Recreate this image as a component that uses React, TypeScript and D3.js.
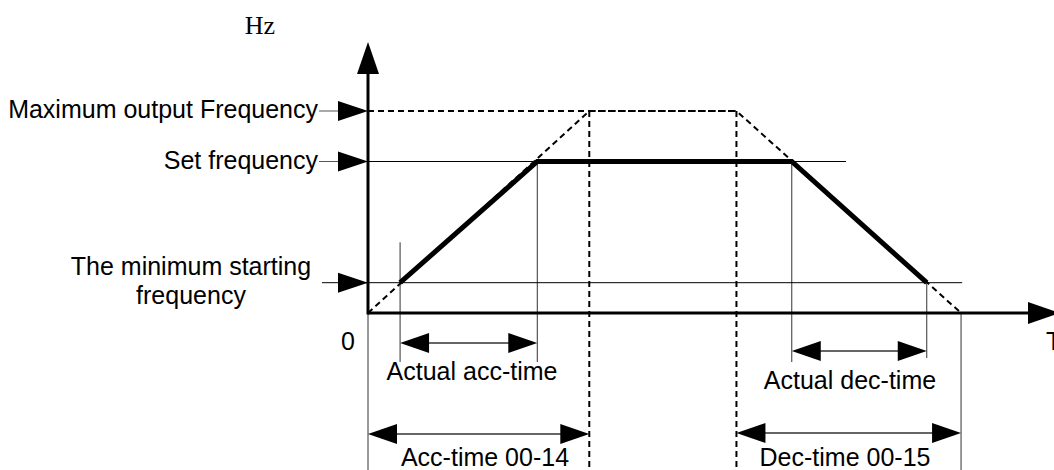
import * as d3 from "d3";

// frequency levels marked on the Hz axis (0..100 = % of max output)
const levelLabels = ["Maximum output Frequency", "Set frequency", "The minimum starting frequency"];
const levelValues = [100, 75, 15];
// where the thin guide line of each level stops (time units)
const levelLineEnds = [16.65, 21.6, 26.85];

// nominal ramp (dashed): 0 -> max over acc-time, max -> 0 over dec-time
const nominalT = [0, 10, 16.65, 26.8];
const nominalF = [0, 100, 100, 0];

// actual output (bold): starts at min start freq, holds set freq, stops at min freq
const actualT = [1.45, 7.65, 19.15, 25.25];
const actualF = [15, 75, 75, 15];

// dimension arrows below the T axis
const spanLabels = ["Actual acc-time", "Acc-time 00-14", "Actual dec-time", "Dec-time 00-15"];
const spanStart = [1.45, 0, 19.15, 16.65];
const spanEnd = [7.65, 10, 25.25, 26.8];

const W = 1054;
const H = 470;
const FONT = "Liberation Sans, Arial, sans-serif";
const FS = 25;

const x = d3.scaleLinear().domain([0, 31]).range([368, 1054]);
const y = d3.scaleLinear().domain([0, 100]).range([313, 111]);

function Head({ tipX, tipY, dir, len = 29, half = 10 }: { tipX: number; tipY: number; dir: "l" | "r" | "u"; len?: number; half?: number }) {
  let pts: [number, number][];
  if (dir === "r") pts = [[tipX, tipY], [tipX - len, tipY - half], [tipX - len, tipY + half]];
  else if (dir === "l") pts = [[tipX, tipY], [tipX + len, tipY - half], [tipX + len, tipY + half]];
  else pts = [[tipX, tipY], [tipX - half, tipY + len], [tipX + half, tipY + len]];
  return <polygon points={pts.map((p) => p.join(",")).join(" ")} fill="#000" />;
}

export default function App() {
  const x0 = x(0);
  const y0 = y(0);
  const line = d3.line<[number, number]>().x((d) => x(d[0])).y((d) => y(d[1]));
  const nominal = nominalT.map((t, i) => [t, nominalF[i]] as [number, number]);
  const actual = actualT.map((t, i) => [t, actualF[i]] as [number, number]);

  // vertical guide lines: [t, top freq, bottom px, dashed]
  const guides: [number, number, number, boolean][] = [
    [0, 0, 470, false],
    [actualT[0], 35, 362, false],
    [actualT[1], actualF[1], 362, false],
    [actualT[2], actualF[2], 362, false],
    [actualT[3], actualF[3], 358, false],
    [nominalT[3], 0, 470, false],
    [nominalT[1], 100, 470, true],
    [nominalT[2], 100, 470, true],
  ];
  const spanY = [343, 434, 351, 433];
  const labelY = [380, 466, 389, 466];
  const labelX = [472, 485, 850, 845];

  return (
    <svg
      width={W}
      height={H}
      style={{ position: "absolute", left: 0, top: 0, background: "#fff" }}
      fontFamily={FONT}
    >
      {/* axis titles */}
      <text x={260} y={34} fontFamily="Liberation Serif, Times New Roman, serif" fontSize={26} textAnchor="middle">
        Hz
      </text>
      <text x={348} y={350} fontSize={FS} textAnchor="middle">0</text>
      <text x={1046} y={350} fontSize={FS}>T</text>

      {/* thin level lines */}
      {levelValues.map((v, i) => (
        <line
          key={"lv" + i}
          x1={i === 2 ? x0 - 46 : x0}
          x2={x(levelLineEnds[i])}
          y1={y(v)}
          y2={y(v)}
          stroke="#000"
          strokeWidth={i === 0 ? 2 : 1}
          strokeDasharray={i === 0 ? "6,4" : undefined}
        />
      ))}

      {/* level pointers + labels */}
      {levelValues.map((v, i) => (
        <g key={"lp" + i}>
          {i < 2 && <line x1={x0 - 49} x2={x0 - 30} y1={y(v)} y2={y(v)} stroke="#555" strokeWidth={1} />}
          <Head tipX={x0} tipY={y(v)} dir="r" len={30} half={10} />
        </g>
      ))}
      <text x={318} y={y(levelValues[0]) + 7} fontSize={FS} textAnchor="end">{levelLabels[0]}</text>
      <text x={318} y={y(levelValues[1]) + 7} fontSize={FS} textAnchor="end">{levelLabels[1]}</text>
      <text x={191} y={275} fontSize={FS} textAnchor="middle">The minimum starting</text>
      <text x={191} y={304} fontSize={FS} textAnchor="middle">frequency</text>

      {/* vertical guides */}
      {guides.map(([t, f, bottom, dashed], i) => (
        <line
          key={"g" + i}
          x1={x(t)}
          x2={x(t)}
          y1={f > 0 ? y(f) : y0}
          y2={bottom}
          stroke="#000"
          strokeWidth={dashed ? 2 : 1}
          strokeDasharray={dashed ? "6,4" : undefined}
          opacity={dashed ? 1 : 0.8}
        />
      ))}

      {/* nominal dashed ramp */}
      <path d={line(nominal) ?? ""} fill="none" stroke="#000" strokeWidth={2} strokeDasharray="6,4" />

      {/* actual output */}
      <path d={line(actual) ?? ""} fill="none" stroke="#000" strokeWidth={5} strokeLinejoin="miter" />

      {/* axes */}
      <line x1={x0} x2={x0} y1={y0 + 1.5} y2={74} stroke="#000" strokeWidth={3} />
      <Head tipX={x0} tipY={42} dir="u" len={32} half={11} />
      <line x1={x0} x2={1030} y1={y0} y2={y0} stroke="#000" strokeWidth={3} />
      <Head tipX={1060} tipY={y0} dir="r" len={32} half={11} />

      {/* dimension arrows */}
      {spanLabels.map((lab, i) => {
        const a = x(spanStart[i]);
        const b = x(spanEnd[i]);
        return (
          <g key={"s" + i}>
            <line x1={a + 28} x2={b - 28} y1={spanY[i]} y2={spanY[i]} stroke="#333" strokeWidth={1.5} />
            <Head tipX={a} tipY={spanY[i]} dir="l" len={29} half={10} />
            <Head tipX={b} tipY={spanY[i]} dir="r" len={29} half={10} />
            <text x={labelX[i]} y={labelY[i]} fontSize={FS} textAnchor="middle">
              {lab}
            </text>
          </g>
        );
      })}
    </svg>
  );
}
